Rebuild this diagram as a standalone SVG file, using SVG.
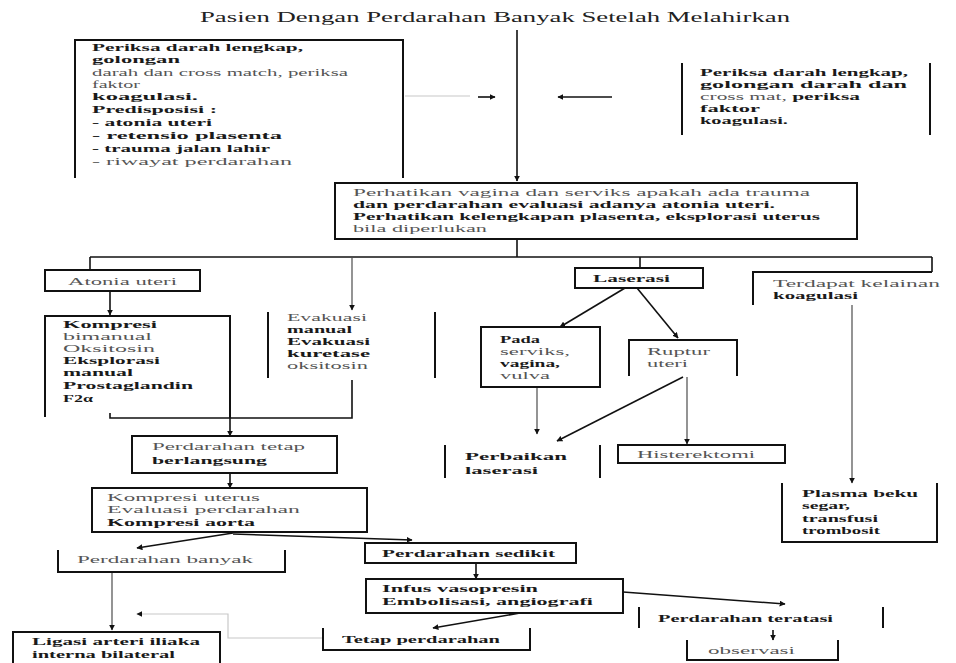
<svg xmlns="http://www.w3.org/2000/svg" width="956" height="663" viewBox="0 0 956 663">
<defs>
<marker id="ah" viewBox="0 0 10 10" refX="9" refY="5" markerWidth="6" markerHeight="6" orient="auto-start-reverse" markerUnits="userSpaceOnUse">
<path d="M0,0 L10,5 L0,10 z" fill="#111"/>
</marker>
<style>
.b{fill:none;stroke:#111;stroke-width:2}
.c{fill:none;stroke:#111;stroke-width:1.6}
.g{fill:none;stroke:#888;stroke-width:1.8}
.lg{fill:none;stroke:#c8c8c8;stroke-width:1.2}
text{font-family:"Liberation Serif","Times New Roman",serif;font-size:10.5px;font-weight:bold;fill:#1a1a1a}
.l{font-weight:normal;fill:#555}
.ti{font-size:15px;font-weight:normal;fill:#222}
</style>
</defs>
<rect width="956" height="663" fill="#fff"/>
<text class="ti" x="200" y="22" textLength="590" lengthAdjust="spacingAndGlyphs">Pasien Dengan Perdarahan Banyak Setelah Melahirkan</text>

<g id="connectors">
<path class="c" d="M517,30 V181" marker-end="url(#ah)"/>
<path class="lg" d="M405,96 H470"/>
<path class="c" d="M478,97 H495" marker-end="url(#ah)"/>
<path class="c" d="M612,97 H558" marker-end="url(#ah)"/>
<path class="c" d="M517,240 V257"/>
<path class="c" d="M90,257 H932"/>
<path class="c" d="M90,257 V270"/>
<path class="g" d="M352,258 V310" marker-end="url(#ah)"/>
<path class="c" d="M640,257 V268"/>
<path class="c" d="M932,257 V272"/>
<path class="c" d="M110,291 V315" marker-end="url(#ah)"/>
<path class="c" d="M352,380 V418 H110 V413"/>
<path class="c" d="M230,418 V436" marker-end="url(#ah)"/>
<path class="c" d="M230,473 V488" marker-end="url(#ah)"/>
<path class="c" d="M233,533 L137,548" marker-end="url(#ah)"/>
<path class="c" d="M233,534 L412,540" marker-end="url(#ah)"/>
<path class="g" d="M112,572 V630" marker-end="url(#ah)"/>
<path class="lg" d="M322,638 H228 V614 H137" marker-end="url(#ah)"/>
<path class="c" d="M476,563 V579" marker-end="url(#ah)"/>
<path class="c" d="M520,613 L433,628" marker-end="url(#ah)"/>
<path class="c" d="M623,592 L785,604" marker-end="url(#ah)"/>
<path class="c" d="M773,630 V640" marker-end="url(#ah)"/>
<path class="c" d="M625,288 L560,327" marker-end="url(#ah)"/>
<path class="c" d="M637,288 L678,338" marker-end="url(#ah)"/>
<path class="g" d="M537,387 V434" marker-end="url(#ah)"/>
<path class="c" d="M683,377 L557,441" marker-end="url(#ah)"/>
<path class="g" d="M687,377 V444" marker-end="url(#ah)"/>
<path class="g" d="M852,305 V483" marker-end="url(#ah)"/>
</g>

<g id="n-periksa1">
<path class="b" d="M75,178 V40 H403 V178"/>
<text x="92" y="51" textLength="211" lengthAdjust="spacingAndGlyphs">Periksa darah lengkap,</text>
<text x="92" y="63" textLength="88" lengthAdjust="spacingAndGlyphs">golongan</text>
<text class="l" x="92" y="76" textLength="256" lengthAdjust="spacingAndGlyphs">darah dan cross match, periksa</text>
<text class="l" x="92" y="88" textLength="48" lengthAdjust="spacingAndGlyphs">faktor</text>
<text x="92" y="100" textLength="106" lengthAdjust="spacingAndGlyphs">koagulasi.</text>
<text x="92" y="113" textLength="125" lengthAdjust="spacingAndGlyphs">Predisposisi :</text>
<text x="92" y="126" textLength="120" lengthAdjust="spacingAndGlyphs">- atonia uteri</text>
<text x="92" y="139" textLength="190" lengthAdjust="spacingAndGlyphs">- retensio plasenta</text>
<text x="92" y="152" textLength="178" lengthAdjust="spacingAndGlyphs">- trauma jalan lahir</text>
<text class="l" x="92" y="165" textLength="200" lengthAdjust="spacingAndGlyphs">- riwayat perdarahan</text>
</g>

<g id="n-periksa2">
<path class="b" d="M682,63 V135 M930,63 V135"/>
<text x="700" y="76" textLength="208" lengthAdjust="spacingAndGlyphs">Periksa darah lengkap,</text>
<text x="700" y="88" textLength="207" lengthAdjust="spacingAndGlyphs">golongan darah dan</text>
<text x="700" y="100" textLength="160" lengthAdjust="spacingAndGlyphs"><tspan class="l">cross mat,</tspan> periksa</text>
<text x="700" y="112" textLength="60" lengthAdjust="spacingAndGlyphs">faktor</text>
<text x="700" y="124" textLength="88" lengthAdjust="spacingAndGlyphs">koagulasi.</text>
</g>

<g id="n-perhatikan">
<rect class="b" x="335" y="183" width="522" height="56"/>
<text class="l" x="353" y="196" textLength="457" lengthAdjust="spacingAndGlyphs">Perhatikan vagina dan serviks apakah ada trauma</text>
<text x="353" y="208" textLength="422" lengthAdjust="spacingAndGlyphs">dan perdarahan evaluasi adanya atonia uteri.</text>
<text x="353" y="220" textLength="467" lengthAdjust="spacingAndGlyphs">Perhatikan kelengkapan plasenta, eksplorasi uterus</text>
<text class="l" x="353" y="232" textLength="134" lengthAdjust="spacingAndGlyphs">bila diperlukan</text>
</g>

<g id="n-atonia">
<rect class="b" x="45" y="270" width="155" height="21"/>
<text class="l" x="68" y="285" textLength="109" lengthAdjust="spacingAndGlyphs">Atonia uteri</text>
</g>

<g id="n-kompresi">
<path class="b" d="M45,417 V316 H230 V418"/>
<text x="63" y="328" textLength="94" lengthAdjust="spacingAndGlyphs">Kompresi</text>
<text class="l" x="63" y="340" textLength="89" lengthAdjust="spacingAndGlyphs">bimanual</text>
<text class="l" x="63" y="352" textLength="92" lengthAdjust="spacingAndGlyphs">Oksitosin</text>
<text x="63" y="364" textLength="97" lengthAdjust="spacingAndGlyphs">Eksplorasi</text>
<text x="63" y="376" textLength="70" lengthAdjust="spacingAndGlyphs">manual</text>
<text x="63" y="389" textLength="130" lengthAdjust="spacingAndGlyphs">Prostaglandin</text>
<text x="63" y="402" textLength="30" lengthAdjust="spacingAndGlyphs">F2α</text>
</g>

<g id="n-evakuasi">
<path class="b" d="M268,312 V378 M435,312 V378"/>
<text class="l" x="287" y="321" textLength="80" lengthAdjust="spacingAndGlyphs">Evakuasi</text>
<text x="287" y="333" textLength="65" lengthAdjust="spacingAndGlyphs">manual</text>
<text x="287" y="345" textLength="83" lengthAdjust="spacingAndGlyphs">Evakuasi</text>
<text x="287" y="357" textLength="83" lengthAdjust="spacingAndGlyphs">kuretase</text>
<text class="l" x="287" y="369" textLength="81" lengthAdjust="spacingAndGlyphs">oksitosin</text>
</g>

<g id="n-laserasi">
<rect class="b" x="575" y="268" width="128" height="20"/>
<text x="593" y="282" textLength="77" lengthAdjust="spacingAndGlyphs">Laserasi</text>
</g>

<g id="n-koagulasi">
<path class="b" d="M753,305 V272 H932"/>
<text class="l" x="773" y="287" textLength="167" lengthAdjust="spacingAndGlyphs">Terdapat kelainan</text>
<text x="773" y="299" textLength="85" lengthAdjust="spacingAndGlyphs">koagulasi</text>
</g>

<g id="n-pada">
<rect class="b" x="481" y="327" width="119" height="60"/>
<text x="500" y="343" textLength="40" lengthAdjust="spacingAndGlyphs">Pada</text>
<text class="l" x="500" y="355" textLength="70" lengthAdjust="spacingAndGlyphs">serviks,</text>
<text x="500" y="367" textLength="60" lengthAdjust="spacingAndGlyphs">vagina,</text>
<text class="l" x="500" y="379" textLength="50" lengthAdjust="spacingAndGlyphs">vulva</text>
</g>

<g id="n-ruptur">
<path class="b" d="M629,376 V340 H737 V376"/>
<text class="l" x="647" y="355" textLength="63" lengthAdjust="spacingAndGlyphs">Ruptur</text>
<text class="l" x="647" y="367" textLength="41" lengthAdjust="spacingAndGlyphs">uteri</text>
</g>

<g id="n-perbaikan">
<path class="b" d="M445,445 V478 M600,445 V478"/>
<text x="465" y="460" textLength="102" lengthAdjust="spacingAndGlyphs">Perbaikan</text>
<text x="465" y="474" textLength="73" lengthAdjust="spacingAndGlyphs">laserasi</text>
</g>

<g id="n-histerektomi">
<rect class="b" x="618" y="445" width="167" height="18"/>
<text class="l" x="637" y="458" textLength="118" lengthAdjust="spacingAndGlyphs">Histerektomi</text>
</g>

<g id="n-plasma">
<path class="b" d="M782,483 V542 H937 V483"/>
<text x="802" y="497" textLength="116" lengthAdjust="spacingAndGlyphs">Plasma beku</text>
<text x="802" y="509" textLength="48" lengthAdjust="spacingAndGlyphs">segar,</text>
<text x="802" y="522" textLength="76" lengthAdjust="spacingAndGlyphs">transfusi</text>
<text x="802" y="534" textLength="78" lengthAdjust="spacingAndGlyphs">trombosit</text>
</g>

<g id="n-tetap-berlangsung">
<rect class="b" x="132" y="436" width="205" height="37"/>
<text class="l" x="152" y="450" textLength="153" lengthAdjust="spacingAndGlyphs">Perdarahan tetap</text>
<text x="152" y="464" textLength="115" lengthAdjust="spacingAndGlyphs">berlangsung</text>
</g>

<g id="n-kompresi-uterus">
<rect class="b" x="92" y="488" width="275" height="44"/>
<text class="l" x="107" y="501" textLength="153" lengthAdjust="spacingAndGlyphs">Kompresi uterus</text>
<text class="l" x="107" y="513" textLength="193" lengthAdjust="spacingAndGlyphs">Evaluasi perdarahan</text>
<text x="107" y="526" textLength="148" lengthAdjust="spacingAndGlyphs">Kompresi aorta</text>
</g>

<g id="n-banyak">
<path class="b" d="M58,550 V572 H285 V550"/>
<text class="l" x="77" y="563" textLength="176" lengthAdjust="spacingAndGlyphs">Perdarahan banyak</text>
</g>

<g id="n-ligasi">
<rect class="b" x="13" y="632" width="207" height="36"/>
<text x="32" y="645" textLength="168" lengthAdjust="spacingAndGlyphs">Ligasi arteri iliaka</text>
<text x="32" y="658" textLength="143" lengthAdjust="spacingAndGlyphs">interna bilateral</text>
</g>

<g id="n-sedikit">
<rect class="b" x="365" y="543" width="211" height="20"/>
<text x="382" y="557" textLength="173" lengthAdjust="spacingAndGlyphs">Perdarahan sedikit</text>
</g>

<g id="n-infus">
<rect class="b" x="366" y="579" width="257" height="34"/>
<text x="382" y="592" textLength="156" lengthAdjust="spacingAndGlyphs">Infus vasopresin</text>
<text x="382" y="605" textLength="211" lengthAdjust="spacingAndGlyphs">Embolisasi, angiografi</text>
</g>

<g id="n-tetap">
<path class="b" d="M323,628 V650 H530 V628"/>
<text x="342" y="643" textLength="158" lengthAdjust="spacingAndGlyphs">Tetap perdarahan</text>
</g>

<g id="n-teratasi">
<path class="b" d="M639,607 V628 M883,607 V628"/>
<text x="658" y="622" textLength="175" lengthAdjust="spacingAndGlyphs">Perdarahan teratasi</text>
</g>

<g id="n-observasi">
<path class="b" d="M687,640 V660 H838 V640"/>
<text class="l" x="708" y="654" textLength="87" lengthAdjust="spacingAndGlyphs">observasi</text>
</g>
</svg>
